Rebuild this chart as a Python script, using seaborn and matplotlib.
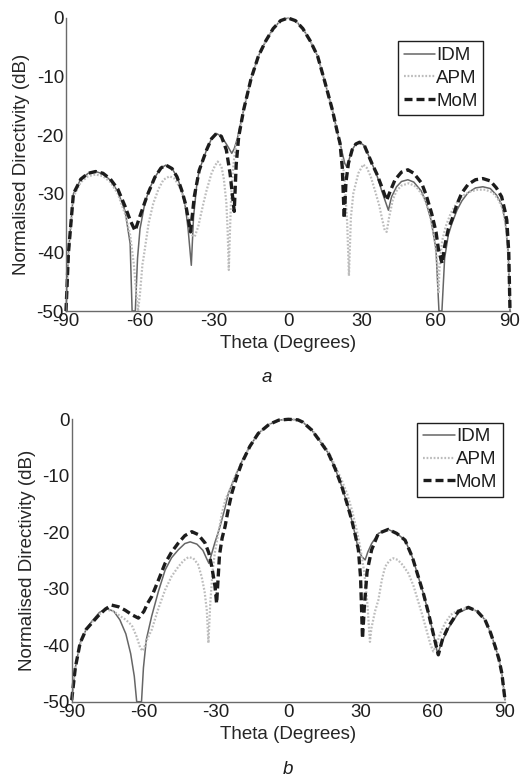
import numpy as np
import pandas as pd
import matplotlib
matplotlib.use("Agg")
import matplotlib.pyplot as plt
import seaborn as sns

# ---------------- data: panel a ----------------
theta_a_mom = [-90, -89, -87, -84, -81, -78, -75, -72, -69, -66, -64, -62, -60, -57, -54, -51.5, -49.5,
               -47, -45, -43, -41.5, -39.5, -38, -36, -33, -31, -29, -27, -25, -23.5, -21.8, -21, -20,
               -18, -15, -12, -9, -6, -3, 0, 3, 6, 9, 12, 15, 18, 20, 21.1, 22, 22.8, 23.5, 24.5, 26,
               27.5, 29, 31, 34, 36, 38, 40, 41.5, 43.4, 46, 48.6, 51, 54.2, 56, 58.2, 60, 61, 62.5,
               63.5, 65, 66.4, 68.5, 70.4, 73, 76, 79, 82, 84.5, 86.6, 88, 88.7, 89.5, 90]
db_a_mom = [-50, -40, -30, -27.5, -26.5, -26.2, -26.5, -27.5, -29.2, -32.2, -34.5, -36.3, -33.8, -30.2,
            -27.2, -25.6, -25.1, -25.7, -27.1, -29.5, -31.8, -36.5, -30.5, -26, -22.5, -20.6, -19.7,
            -20.2, -22.5, -26.5, -33, -25, -20.3, -15.7, -10.4, -6.5, -3.9, -1.8, -0.45, 0, -0.45,
            -1.8, -3.9, -6.5, -11, -15.7, -19.5, -21.4, -25.5, -34.2, -28, -24.8, -22.5, -21.5, -21.2,
            -21.8, -24.8, -26.6, -28.8, -31.1, -29.5, -27.6, -26.3, -25.9, -26.5, -28.2, -30.2, -33.3,
            -36.5, -39.5, -41.9, -39.0, -36.0, -34.5, -31.8, -29.9, -28.4, -27.6, -27.4, -27.8, -29.0,
            -30.5, -33, -34.5, -40, -50]

theta_a_idm = [-90, -89, -87, -84, -81, -78, -75, -72, -69, -66, -64, -63.2, -62.6, -61.9, -61, -60,
               -58, -56, -54, -51.5, -49.5, -47, -45, -43, -41.5, -40.5, -39.2, -38.3, -37, -36, -33,
               -31, -29, -27, -25, -24, -22.8, -21.8, -20.5, -18, -15, -12, -9, -6, -3, 0, 3, 6, 9, 12,
               15, 18, 20, 21.1, 22, 23, 23.8, 24.5, 26, 27.5, 29, 31, 34, 36, 38, 40.7, 42, 44, 46,
               48.6, 51, 54, 56, 58, 60, 61.2, 61.8, 62.4, 63.5, 65, 66.5, 68.5, 70.5, 73, 76, 79, 82,
               84.5, 86.6, 88, 89.3, 90]
db_a_idm = [-50, -40, -30, -27.5, -26.5, -26.2, -26.6, -27.7, -29.6, -33, -38.5, -50, -50, -50, -41,
            -36, -31.5, -29, -27.2, -25.6, -25.1, -25.7, -27.1, -29.5, -32.5, -36, -42.2, -34, -28.5,
            -26, -22.5, -20.6, -19.7, -20.2, -21.5, -22.2, -23.1, -22.3, -20.5, -15.7, -10.4, -6.5,
            -3.9, -1.8, -0.45, 0, -0.45, -1.8, -3.9, -6.5, -11, -15.7, -19.5, -21.4, -23, -24.8,
            -25.4, -24.5, -22.5, -21.5, -21.2, -21.8, -24.8, -26.8, -29.5, -32.8, -30.5, -28.8,
            -27.9, -27.6, -28.0, -29.5, -31.5, -34.5, -39.5, -50, -50, -50, -41, -37, -35, -32.8,
            -31.2, -29.8, -29.0, -28.8, -29.1, -30.2, -31.8, -34.5, -40, -50]

theta_a_apm = [-90, -89, -87, -84, -81, -78, -75, -72, -69, -66, -64, -62.5, -61.5, -60.8, -60, -59,
               -58.7, -56.5, -54.6, -52.5, -50.5, -48, -46, -44, -42, -40.5, -39, -37.8, -36.4, -34.5,
               -33, -31, -29.6, -28.5, -27, -26, -25, -24.5, -24, -23.5, -23, -22, -21, -20, -18, -15,
               -12, -9, -6, -3, 0, 3, 6, 9, 12, 15, 18, 20, 21, 22, 23, 24, 24.7, 25.5, 26.5, 28.5,
               30.5, 32, 33.5, 35.3, 37, 38, 39.2, 40, 41, 42.5, 44, 46, 49, 52, 55, 57.5, 59.5, 60.5,
               61, 61.5, 62.5, 64, 66, 68.5, 71, 74, 77, 80, 83, 85, 87, 88.5, 89.5, 90]
db_a_apm = [-50, -40.5, -30.5, -28, -27, -26.7, -27, -28, -30, -33.5, -37, -42, -47, -50, -47, -42,
            -41.3, -35, -31.6, -29.2, -27.6, -27.0, -27.4, -28.8, -31, -34, -37, -37.3, -35.6, -32,
            -29.4, -26.5, -25.2, -24.5, -25.3, -27.5, -31.5, -36, -43, -36, -30, -24.5, -21.5, -20.2,
            -15.7, -10.4, -6.5, -3.9, -1.8, -0.45, 0, -0.45, -1.8, -3.9, -6.5, -11, -15.7, -19.5,
            -21.5, -24, -28, -35, -44, -34, -29.9, -26.5, -25.0, -25.6, -27, -29.5, -32, -34, -36.2,
            -36.5, -34, -31, -29.5, -28.6, -28.2, -28.8, -30.5, -33.5, -38, -42, -47, -42, -38,
            -35.5, -33.3, -31.5, -30.3, -29.6, -29.3, -29.3, -29.8, -30.8, -32.5, -36, -42, -50]

# ---------------- data: panel b ----------------
theta_b_mom = [-90, -88.5, -86.5, -84, -81.7, -79, -76, -73.4, -70.5, -67.8, -65, -62.3, -60, -58.5,
               -56.8, -54, -51.2, -48.5, -45.7, -43, -40.1, -37.5, -34.6, -33, -31.8, -30.5, -29.8,
               -28.6, -27.5, -26.3, -25, -23.5, -21.5, -19.4, -16, -12.5, -8, -4, 0, 4, 6, 9.7, 13,
               16.6, 19.5, 22.2, 24.3, 26.3, 27.8, 29.1, 30, 30.8, 31.6, 32.7, 34.6, 37.4, 41.5, 45,
               48.5, 51.5, 54, 56.2, 58.2, 60.5, 62.3, 64, 66.5, 70.6, 74.8, 78.5, 81.7, 84, 85.9,
               87.5, 88.7, 90]
db_b_mom = [-49.7, -44, -39.6, -37.2, -36.1, -34.8, -33.6, -32.9, -33.2, -33.8, -34.6, -35.2, -34,
            -32.6, -31.4, -28.5, -25.5, -23.5, -21.9, -20.6, -19.9, -20.4, -21.9, -23.7, -26.1,
            -29.5, -32.6, -24, -21, -19.0, -16, -13.1, -10.3, -7.8, -4.8, -2.5, -0.9, -0.15, 0, -0.1,
            -0.5, -1.9, -3.8, -6.0, -8.8, -11.9, -14.8, -17.8, -20.5, -23.1, -28, -38.8, -33, -27,
            -23.1, -20.2, -19.5, -20.2, -21.4, -24.4, -27.9, -31.0, -34.3, -38.5, -41.7, -39, -36.7,
            -34.0, -33.3, -34.0, -35.5, -37.8, -40.2, -42.5, -45.0, -49.7]

theta_b_idm = [-90, -88.5, -86.5, -84, -81.7, -78.5, -75.5, -72.5, -70, -67.5, -65.5, -64, -63, -62,
               -61, -60.2, -59, -56.8, -54, -51.2, -48.5, -45.7, -43, -40.8, -38, -35.5, -33.8, -33,
               -32, -30.5, -29.5, -28.4, -26.5, -24.9, -22, -19, -16, -12.5, -8, -4, 0, 4, 6, 9.7, 13,
               16.6, 19.5, 22.2, 24.3, 26.3, 27.8, 29.1, 30.5, 31.9, 33, 34.6, 37.4, 41.5, 45, 48.5,
               51.5, 54, 56.2, 58.2, 60.5, 62, 64, 66.5, 70.6, 74.8, 78.5, 81.7, 84, 85.9, 87.5, 88.7,
               90]
db_b_idm = [-49.7, -44, -39.6, -37.2, -35.8, -34.2, -33.5, -34, -35.5, -38, -41.5, -45.5, -50, -50,
            -50, -44, -39, -34.9, -30.5, -26.7, -24.5, -23.1, -22.0, -21.7, -22.1, -23.2, -24.8,
            -25.5, -24, -21.8, -20.5, -19.0, -16, -13.1, -10, -7.2, -4.8, -2.5, -0.9, -0.15, 0, -0.1,
            -0.5, -1.9, -3.8, -6.0, -8.8, -11.9, -14.8, -17.8, -20.5, -23.1, -24.3, -24.9, -23.5,
            -22.0, -20.2, -19.5, -20.2, -21.4, -24.4, -27.9, -31.0, -34.3, -38.5, -41.5, -39.3,
            -37, -34.3, -33.4, -34.0, -35.5, -37.8, -40.2, -42.5, -45.0, -49.7]

theta_b_apm = [-90, -88.5, -86.5, -84, -81.7, -78.5, -75.5, -72.5, -70, -67.5, -65, -63, -61.5, -60.5,
               -59.5, -58.5, -56.8, -54, -51.2, -48.5, -45.7, -43.5, -41.5, -39.5, -37.5, -36, -34.8,
               -33.9, -33.2, -32.5, -31.5, -30.5, -29, -27.7, -26, -24.9, -22, -19, -16, -12.5, -8, -4,
               0, 4, 6, 9.7, 13, 16.6, 19.5, 22.2, 24.5, 26.5, 28.5, 30, 31.5, 32.8, 33.9, 34.5, 36,
               37.4, 38.8, 40.2, 42, 43.6, 45.5, 47.5, 49.9, 52, 55.4, 57.5, 59, 60.2, 61.5, 63, 65.1,
               67.5, 70.6, 74.8, 78.5, 81.7, 84, 85.9, 87.5, 88.7, 90]
db_b_apm = [-49.7, -44, -39.8, -37.3, -36, -34.5, -33.7, -34, -34.8, -35.5, -36.5, -38.5, -40.5, -41,
            -40, -38.8, -37.3, -33.5, -30.2, -27.8, -26.1, -25.0, -24.4, -24.6, -25.7, -27.9, -30.5,
            -33.7, -39.6, -33, -27, -23.5, -20, -16.8, -14, -13.1, -10, -7.2, -4.8, -2.5, -0.9,
            -0.15, 0, -0.1, -0.45, -1.8, -3.6, -5.7, -8.3, -10.8, -13.3, -16.2, -19.8, -23, -27,
            -32.5, -39.4, -37, -34, -32.0, -28.5, -26.1, -25.0, -24.6, -24.9, -25.8, -27.3, -29.5,
            -34.3, -37.5, -39.8, -41.1, -40, -38, -36.1, -34.6, -33.8, -33.3, -34.0, -35.5, -37.8,
            -40.2, -42.5, -45.0, -49.7]

series_names = ["IDM", "APM", "MoM"]
x_ticks = [-90, -60, -30, 0, 30, 60, 90]
y_ticks = [0, -10, -20, -30, -40, -50]
panel_labels = ["a", "b"]

# ---------------- style ----------------
sns.set_theme(style="white")
plt.rcParams["font.family"] = ["Liberation Sans", "DejaVu Sans"]
plt.rcParams["axes.edgecolor"] = "#6a6a6a"
plt.rcParams["text.color"] = "#1e1e1e"

styles = {
    "IDM": dict(color="#666666", lw=1.1, ls="-"),
    "APM": dict(color="#bcbcbc", lw=1.6, ls=(0, (0.8, 0.8))),
    "MoM": dict(color="#1c1c1c", lw=2.4, ls=(0, (2.4, 1.2))),
}

fig = plt.figure(figsize=(5.25, 7.82), dpi=100)
ax_a = fig.add_axes([66 / 525, 1 - 311 / 782, 444 / 525, 293 / 782])
ax_b = fig.add_axes([71.7 / 525, 1 - 701.7 / 782, 433.3 / 525, 282.4 / 782])

panels = [
    (ax_a, {"IDM": (theta_a_idm, db_a_idm), "APM": (theta_a_apm, db_a_apm), "MoM": (theta_a_mom, db_a_mom)},
     (0.94, 0.92)),
    (ax_b, {"IDM": (theta_b_idm, db_b_idm), "APM": (theta_b_apm, db_b_apm), "MoM": (theta_b_mom, db_b_mom)},
     (0.995, 0.988)),
]

for ax, data, leg_anchor in panels:
    for name in series_names:
        th, db = data[name]
        st = styles[name]
        sns.lineplot(x=th, y=db, ax=ax, estimator=None, sort=False, color=st["color"],
                     linewidth=st["lw"], linestyle=st["ls"], label=name, clip_on=False)
    ax.set_xlim(-90, 90)
    ax.set_ylim(-50, 0)
    ax.set_xticks(x_ticks)
    ax.set_yticks(y_ticks)
    ax.set_xticklabels([str(t) for t in x_ticks])
    ax.set_yticklabels([str(t) for t in y_ticks])
    for s in ["top", "right"]:
        ax.spines[s].set_visible(False)
    for s in ["left", "bottom"]:
        ax.spines[s].set_linewidth(1.0)
        ax.spines[s].set_color("#6a6a6a")
    ax.tick_params(axis="both", direction="in", length=4, width=1.0, color="#6a6a6a",
                   labelsize=13.5, labelcolor="#1e1e1e", pad=1.5)
    ax.set_xlabel("Theta (Degrees)", fontsize=13.5, labelpad=3.5)
    ax.set_ylabel("Normalised Directivity (dB)", fontsize=13.5, labelpad=4.5)
    leg = ax.legend(loc="upper right", bbox_to_anchor=leg_anchor, fontsize=13.5, frameon=True,
                    fancybox=False, edgecolor="#1e1e1e", framealpha=1, handlelength=1.7,
                    handletextpad=0.05, labelspacing=0.3, borderpad=0.3, borderaxespad=0)
    leg.get_frame().set_linewidth(1.0)

fig.text(267 / 525, 1 - 377 / 782, panel_labels[0], fontsize=13.5, style="italic", ha="center", va="center")
fig.text(288 / 525, 1 - 770 / 782, panel_labels[1], fontsize=13.5, style="italic", ha="center", va="center")

fig.savefig("out.png", dpi=100, facecolor="white")
